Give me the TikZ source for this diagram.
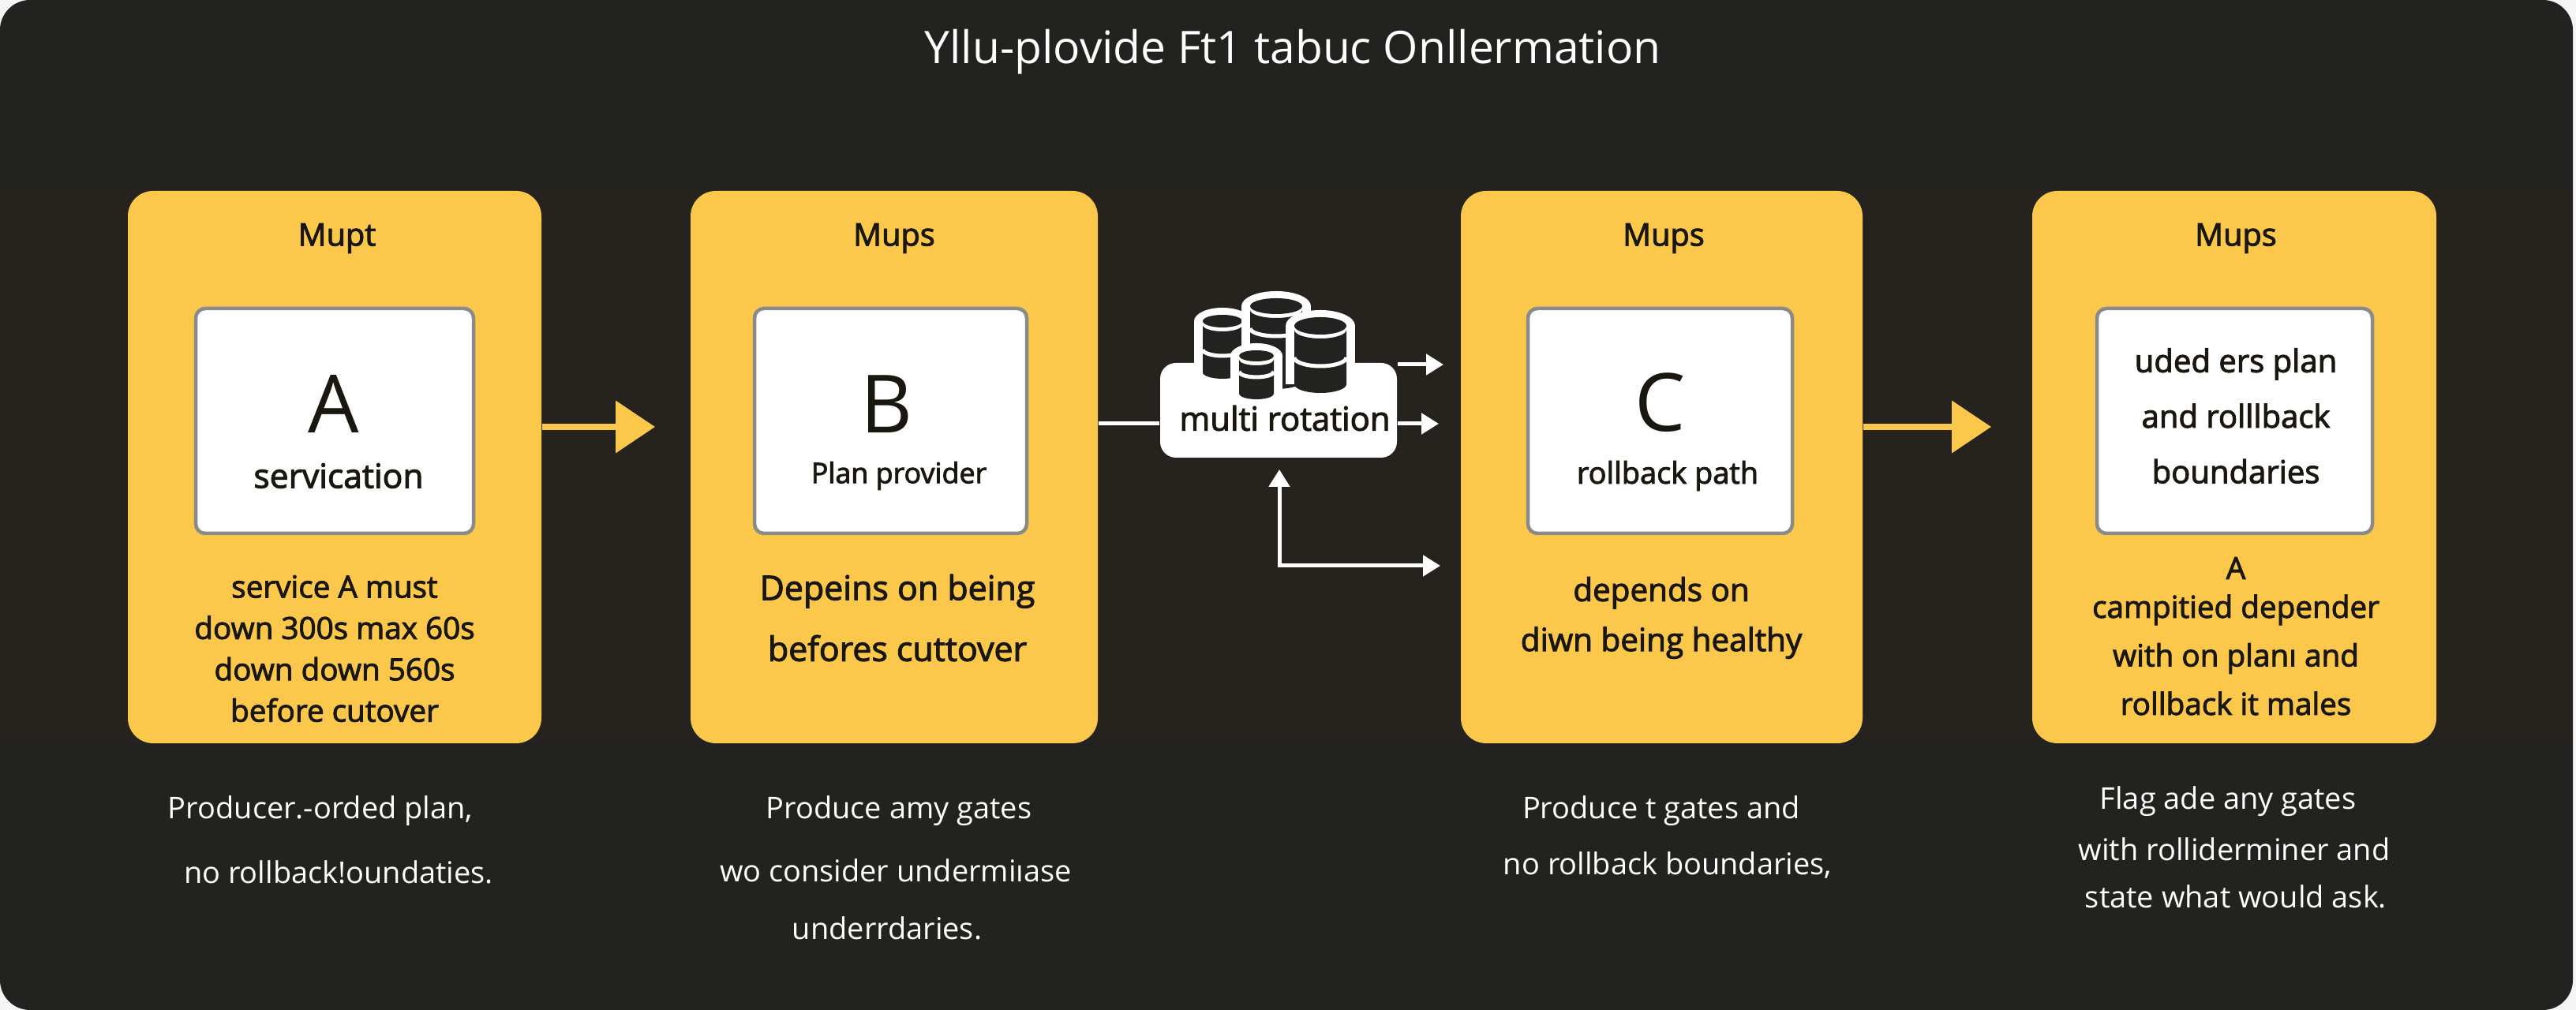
\documentclass[tikz,border=0pt]{standalone}
\usepackage{fontspec}
\setmainfont{Open Sans}
\newfontfamily\medfont[FakeBold=2.5]{Open Sans}
\usetikzlibrary{arrows.meta, positioning, calc}
\definecolor{mPanel}{HTML}{222220}
\definecolor{mBand} {HTML}{26231F}
\definecolor{mCard} {HTML}{FCC84B}
\definecolor{mEdge} {HTML}{8A8A88}
\definecolor{mInk}  {HTML}{1A1710}
\tikzset{
  card/.style={draw=none, fill=mCard, rounded corners=0.32cm, minimum height=7.00cm, inner sep=0pt},
  whitebox/.style={draw=mEdge, line width=0.045cm, fill=white, rounded corners=0.12cm, minimum height=2.85cm, inner sep=0pt},
  cardhead/.style={text=mInk, inner sep=0pt, font=\medfont\fontsize{11.3}{13}\selectfont},
  bigletter/.style={text=mInk, inner sep=0pt, font=\fontsize{29}{32}\selectfont},
  boxtext/.style={text=mInk, inner sep=0pt, align=center, font=\medfont\fontsize{10.8}{20}\selectfont},
  desc/.style={text=mInk, inner sep=0pt, align=center, font=\medfont\fontsize{11}{14.9}\selectfont},
  caption/.style={text=white, inner sep=0pt, font=\fontsize{10.8}{12}\selectfont},
  flowyellow/.style={draw=mCard, line width=0.075cm, -{Triangle[length=0.5cm,width=0.65cm]}},
  flowwhite/.style={draw=white, line width=0.05cm, -{Triangle[length=0.22cm,width=0.26cm]}}
}
% cx, top ellipse cy, rx, ry, height, band offset
\newcommand{\drum}[6]{
  \fill[white] (#1,#2) ellipse ({#3+0.11} and {#4+0.09});
  \fill[white] ({#1-#3-0.11},#2) rectangle ({#1+#3+0.11},{#2-#5});
  \fill[mPanel] (#1,#2) ellipse (#3 and #4);
  \fill[mPanel] ({#1-#3},{#2-0.05}) arc[start angle=180, end angle=360, x radius=#3, y radius=#4]
    -- ({#1+#3},{#2-#5}) arc[start angle=0, end angle=-180, x radius=#3, y radius=#4] -- cycle;
  \draw[white, line width=0.05cm] ({#1-#3},{#2-#6}) arc[start angle=180, end angle=360, x radius=#3, y radius=#4];
}

\begin{document}
\begin{tikzpicture}
  \useasboundingbox (0,0) rectangle (32.64,12.80);
  \fill[gray!8] (0,0) rectangle (32.64,12.80);
  \fill[mPanel, rounded corners=0.38cm] (0,0) rectangle (32.60,12.80);
  \fill[mBand] (0,3.40) rectangle (32.60,10.40);

  % Title
  \node[text=white, inner sep=0pt, font=\fontsize{16.2}{18}\selectfont] (title) at (16.38,12.14) {Yllu-plovide Ft1 tabuc Onllermation};

  % Yellow cards and white boxes
  \foreach \name/\cx/\w in {A/4.24/5.24, B/11.33/5.16, C/21.055/5.09, D/28.31/5.12}{
    \node[card, minimum width=\w cm] (card\name) at (\cx,6.88) {};
  }
  \foreach \name/\cx/\w in {A/4.24/3.52, B/11.285/3.45, C/21.035/3.35, D/28.315/3.49}{
    \node[whitebox, minimum width=\w cm] (box\name) at (\cx,7.465) {};
  }

  % Card headings
  \node[cardhead] (headA) at (4.27,9.78) {Mupt};
  \node[cardhead] (headB) at (11.33,9.78) {Mups};
  \node[cardhead] (headC) at (21.08,9.78) {Mups};
  \node[cardhead] (headD) at (28.33,9.78) {Mups};

  % Box texts
  \node[bigletter] (letterA) at (4.23,7.68) {A};
  \node[bigletter] (letterB) at (11.24,7.68) {B};
  \node[bigletter] (letterC) at (21.04,7.70) {C};
  \node[boxtext, font=\medfont\fontsize{12.1}{20}\selectfont] (subA) at (4.29,6.77) {servication};
  \node[boxtext, font=\medfont\fontsize{10.2}{20}\selectfont] (subB) at (11.39,6.77) {Plan provider};
  \node[boxtext] (subC) at (21.13,6.77) {rollback path};
  \node[boxtext, font=\medfont\fontsize{11.4}{20}\selectfont] (subD) at (28.33,7.53) {uded ers plan\\and rolllback\\boundaries};

  % Card descriptions
  \node[desc] (descA) at (4.24,4.58) {service A must\\down 300s max 60s\\down down 560s\\before cutover};
  \node[desc, font=\medfont\fontsize{12.2}{22}\selectfont] (descB) at (11.37,4.97) {Depeins on being\\befores cuttover};
  \node[desc, font=\medfont\fontsize{11.5}{18}\selectfont] (descC) at (21.05,4.97) {depends on\\diwn being healthy};
  \node[desc] (descDtop) at (28.33,5.60) {A};
  \node[desc, font=\medfont\fontsize{11}{17.5}\selectfont] (descD) at (28.33,4.50) {campitied depender\\with on plan\i{} and\\rollback it males};

  % Captions
  \node[caption] (capA1) at (4.06,2.52) {Producer.-orded plan,};
  \node[caption] (capA2) at (4.29,1.75) {no rollback!oundaties.};
  \node[caption] (capB1) at (11.39,2.52) {Produce amy gates};
  \node[caption] (capB2) at (11.35,1.77) {wo consider undermi\i{}ase};
  \node[caption] (capB3) at (11.24,1.04) {underrdaries.};
  \node[caption] (capC1) at (21.05,2.52) {Produce t gates and};
  \node[caption] (capC2) at (21.13,1.83) {no rollback boundaries,};
  \node[caption] (capD1) at (28.23,2.64) {Flag ade any gates};
  \node[caption] (capD2) at (28.31,2.04) {with rolliderminer and};
  \node[caption] (capD3) at (28.33,1.44) {state what would ask.};

  % Rotation block
  \node[fill=white, rounded corners=0.2cm, minimum width=3.00cm, minimum height=1.20cm, inner sep=0pt] (hub) at (16.20,7.60) {};
  \drum{15.49}{8.73}{0.25}{0.08}{0.65}{0.36}
  \drum{16.17}{8.92}{0.33}{0.10}{0.95}{0.28}
  \drum{16.73}{8.67}{0.33}{0.11}{0.74}{0.40}
  \drum{15.92}{8.29}{0.22}{0.07}{0.48}{0.20}
  \node[text=mInk, inner sep=0pt, font=\medfont\fontsize{11.9}{14}\selectfont] (hubLabel) at (16.28,7.50) {multi rotation};

  % Arrows
  \coordinate (tipA) at (8.30,7.39);
  \coordinate (tipC) at (25.23,7.39);
  \draw[flowyellow] (cardA.east |- tipA) -- (tipA);
  \draw[flowyellow] (cardC.east |- tipC) -- (tipC);

  \coordinate (inHub) at (0,7.43);
  \draw[white, line width=0.05cm] (cardB.east |- inHub) -- (hub.west |- inHub);
  \coordinate (outTop) at (18.29,8.18);
  \coordinate (outMid) at (18.23,7.43);
  \coordinate (outLow) at (18.25,5.63);
  \coordinate (upTip) at (16.21,6.85);
  \draw[flowwhite] (hub.east |- outTop) -- (outTop);
  \draw[flowwhite] (hub.east |- outMid) -- (outMid);
  \draw[flowwhite, {Triangle[length=0.22cm,width=0.26cm]}-{Triangle[length=0.22cm,width=0.26cm]}] (upTip) |- (outLow);
\end{tikzpicture}
\end{document}
